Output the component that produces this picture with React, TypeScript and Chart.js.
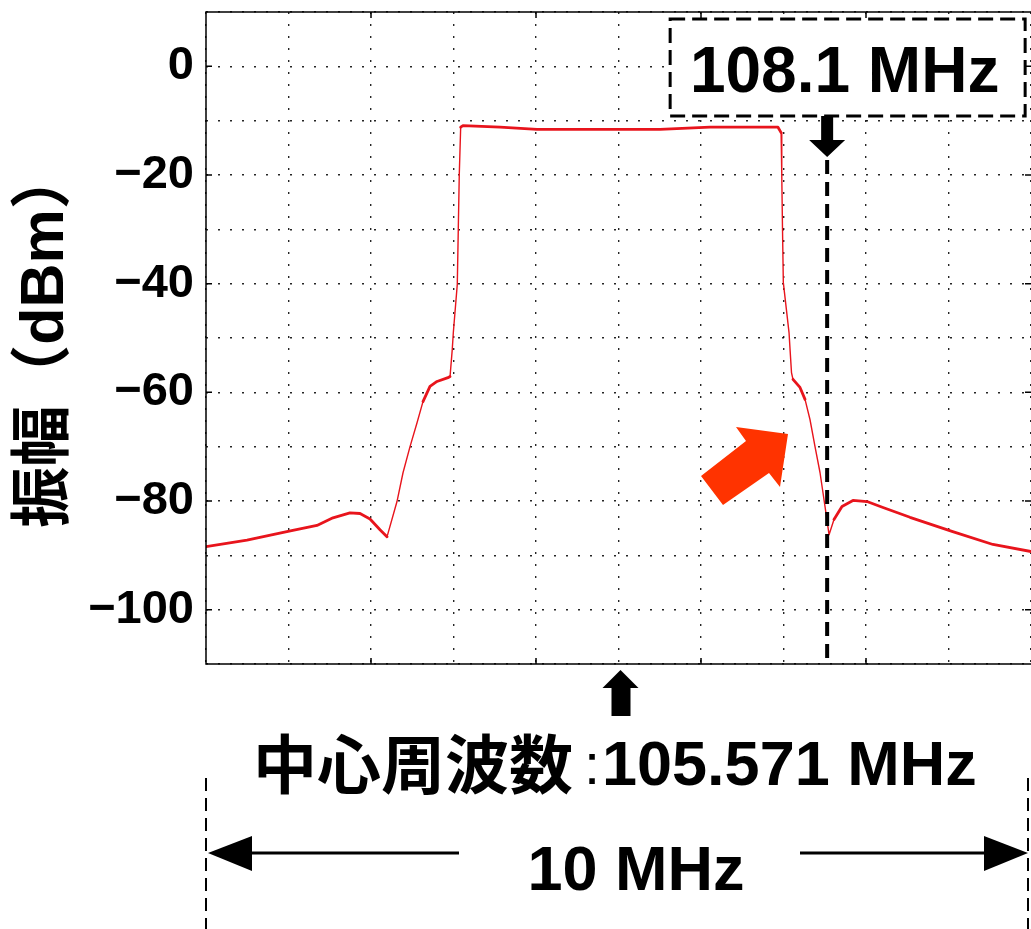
import React, { useEffect, useRef } from "react";
import { Chart, registerables } from "chart.js";

Chart.register(...registerables);

// ---- data ----
const centerFreqMHz = 105.571;
const spanMHz = 10;
const markerFreqMHz = 108.1;
const yTickLabelsEvery = 20;

const freqMHz = [
  100.571, 101.068, 101.565, 101.916, 102.11, 102.316, 102.438, 102.559, 102.68, 102.765,
  102.886, 102.959, 103.044, 103.129, 103.201, 103.286, 103.371, 103.504, 103.529, 103.556,
  103.569, 103.617, 103.629, 103.641, 103.658, 103.686, 104.135, 104.583, 105.347, 106.074,
  106.68, 107.286, 107.504, 107.542, 107.55, 107.559, 107.569, 107.638, 107.65, 107.668,
  107.686, 107.771, 107.832, 107.892, 107.953, 108.014, 108.074, 108.123, 108.183, 108.28,
  108.413, 108.583, 108.777, 109.104, 109.613, 110.11, 110.571,
];
const amplitudeDbm = [
  -88.4, -87.2, -85.6, -84.5, -83.1, -82.2, -82.3, -83.3, -85.3, -86.6,
  -80.1, -74.8, -70, -65.6, -61.7, -58.9, -58.0, -57.3, -57.1, -52.1,
  -49, -40.1, -30, -19.9, -11.2, -10.9, -11.2, -11.6, -11.6, -11.6,
  -11.2, -11.2, -11.2, -12.2, -20, -30, -39.8, -49, -52, -56.4,
  -57.6, -59.1, -61.3, -65, -70, -74.8, -81, -86.2, -83.4, -81,
  -79.9, -80.1, -81.2, -83, -85.6, -88, -89.3,
];

const yAxisTitle = "振幅（dBm）";
const markerLabel = "108.1 MHz";
const centerLabelJa = "中心周波数";
const centerLabelVal = "105.571 MHz";
const spanLabel = "10 MHz";

const FONT = '"Liberation Sans", "Noto Sans CJK JP", Arial, sans-serif';

function fillPoly(ctx: CanvasRenderingContext2D, pts: number[][], color: string) {
  ctx.beginPath();
  ctx.moveTo(pts[0][0], pts[0][1]);
  for (let i = 1; i < pts.length; i++) ctx.lineTo(pts[i][0], pts[i][1]);
  ctx.closePath();
  ctx.fillStyle = color;
  ctx.fill();
}

const annotationPlugin = {
  id: "annotations",
  afterDraw(chart: any) {
    const ctx: CanvasRenderingContext2D = chart.ctx;
    const area = chart.chartArea;
    const xs = chart.scales.x;
    const ys = chart.scales.y;
    ctx.save();

    // frame
    ctx.strokeStyle = "#000";
    ctx.lineWidth = 1.5;
    ctx.beginPath();
    ctx.moveTo(area.right + 2, area.top);
    ctx.lineTo(area.left, area.top);
    ctx.lineTo(area.left, area.bottom);
    ctx.lineTo(area.right + 2, area.bottom);
    ctx.stroke();

    // inside tick marks
    ctx.beginPath();
    for (let v = 0; v >= -100; v -= yTickLabelsEvery) {
      const py = ys.getPixelForValue(v);
      ctx.moveTo(area.left, py);
      ctx.lineTo(area.left + 6, py);
      ctx.moveTo(area.right, py);
      ctx.lineTo(area.right - 6, py);
    }
    for (let k = 2; k < spanMHz; k += 2) {
      const px = xs.getPixelForValue(centerFreqMHz - spanMHz / 2 + k);
      ctx.moveTo(px, area.top);
      ctx.lineTo(px, area.top + 6);
      ctx.moveTo(px, area.bottom);
      ctx.lineTo(px, area.bottom - 6);
    }
    ctx.stroke();

    // marker
    const mx = xs.getPixelForValue(markerFreqMHz);
    const bx0 = mx - 157, bx1 = mx + 198, by0 = 19, by1 = 116;
    ctx.fillStyle = "#fff";
    ctx.fillRect(bx0, by0, bx1 - bx0, by1 - by0);
    ctx.setLineDash([15, 7]);
    ctx.lineWidth = 3;
    ctx.strokeStyle = "#000";
    ctx.strokeRect(bx0, by0, bx1 - bx0, by1 - by0);
    ctx.setLineDash([]);
    ctx.fillStyle = "#000";
    ctx.font = `bold 64px ${FONT}`;
    ctx.textAlign = "center";
    ctx.textBaseline = "alphabetic";
    ctx.fillText(markerLabel, (bx0 + bx1) / 2 - 3, 92);

    // down arrow
    fillPoly(ctx, [
      [mx - 6, by1], [mx + 6, by1], [mx + 6, 140], [mx + 18, 140],
      [mx, 157], [mx - 18, 140], [mx - 6, 140],
    ], "#000");
    ctx.setLineDash([14, 8]);
    ctx.lineWidth = 4;
    ctx.beginPath();
    ctx.moveTo(mx, 160);
    ctx.lineTo(mx, area.bottom);
    ctx.stroke();
    ctx.setLineDash([]);

    // orange arrow
    fillPoly(ctx, [
      [788, 434], [780, 487], [769, 473], [723, 505], [701, 476], [746, 441], [736, 427],
    ], "#ff3300");

    // center up arrow
    const cx = xs.getPixelForValue(centerFreqMHz) + 2;
    fillPoly(ctx, [
      [cx, 670], [cx + 18, 688], [cx + 10, 688], [cx + 10, 716],
      [cx - 9, 716], [cx - 9, 688], [cx - 18, 688],
    ], "#000");

    // center frequency text
    ctx.textAlign = "left";
    ctx.font = `bold 64px "Noto Sans CJK JP", ${FONT}`;
    ctx.fillText(centerLabelJa, 253, 788);
    ctx.textAlign = "center";
    ctx.font = `58px ${FONT}`;
    ctx.fillText(":", 592, 784);
    ctx.textAlign = "left";
    ctx.font = `bold 63px ${FONT}`;
    ctx.fillText(centerLabelVal, 602, 785);

    // span label + arrows
    ctx.textAlign = "center";
    ctx.fillText(spanLabel, 636, 890);
    const lx = area.left, rx = area.right - 3, ay = 853;
    ctx.lineWidth = 3;
    ctx.beginPath();
    ctx.moveTo(lx + 40, ay);
    ctx.lineTo(459, ay);
    ctx.moveTo(800, ay);
    ctx.lineTo(rx - 40, ay);
    ctx.stroke();
    fillPoly(ctx, [[lx + 2, ay], [lx + 46, ay - 17], [lx + 46, ay + 18]], "#000");
    fillPoly(ctx, [[rx, ay], [rx - 44, ay - 17], [rx - 44, ay + 18]], "#000");
    ctx.setLineDash([13, 7]);
    ctx.lineWidth = 2;
    ctx.beginPath();
    ctx.moveTo(lx, 778);
    ctx.lineTo(lx, 929);
    ctx.moveTo(rx, 778);
    ctx.lineTo(rx, 929);
    ctx.stroke();
    ctx.restore();
  },
};

export default function App() {
  const ref = useRef<HTMLCanvasElement | null>(null);
  useEffect(() => {
    if (!ref.current) return;
    const gridDash = [2, 10];
    const chart = new Chart(ref.current, {
      type: "line",
      data: {
        datasets: [
          {
            data: freqMHz.map((f, i) => ({ x: f, y: amplitudeDbm[i] })),
            borderColor: "#e8141c",
            borderWidth: 2.8,
            borderJoinStyle: "round",
            borderCapStyle: "round",
            pointRadius: 0,
            tension: 0,
            fill: false,
            segment: {
              borderWidth: (c: any) => {
                const dx = Math.abs(c.p1.x - c.p0.x);
                const dy = Math.abs(c.p1.y - c.p0.y);
                return dy > 2.5 * dx ? 1.4 : 2.8;
              },
            },
          },
        ],
      },
      options: {
        animation: false,
        responsive: false,
        maintainAspectRatio: false,
        devicePixelRatio: 1,
        layout: { padding: { left: 0, top: 12, right: 0, bottom: 0 } },
        plugins: { legend: { display: false }, tooltip: { enabled: false } },
        scales: {
          x: {
            type: "linear",
            min: centerFreqMHz - spanMHz / 2,
            max: centerFreqMHz + spanMHz / 2,
            afterBuildTicks: (scale: any) => {
              const t = [];
              for (let k = 0; k <= spanMHz; k++) t.push({ value: centerFreqMHz - spanMHz / 2 + k });
              scale.ticks = t;
            },
            afterFit: (scale: any) => {
              scale.height = 265;
              scale.paddingLeft = 0;
              scale.paddingRight = 0;
            },
            ticks: { display: false },
            grid: { color: "rgba(0,0,0,0.85)", lineWidth: 1.4, drawTicks: false },
            border: { display: false, dash: gridDash },
          },
          y: {
            type: "linear",
            min: -110,
            max: 10,
            afterFit: (scale: any) => {
              scale.width = 206;
              scale.paddingTop = 0;
              scale.paddingBottom = 0;
            },
            ticks: {
              stepSize: 10,
              autoSkip: false,
              padding: 12,
              color: "#000",
              font: { family: FONT, size: 47, weight: "bold" },
              callback: (v: any) =>
                Number(v) % yTickLabelsEvery === 0 && Number(v) <= 0 && Number(v) >= -100
                  ? String(v).replace("-", "\u2212")
                  : "",
            },
            title: {
              display: true,
              text: yAxisTitle,
              color: "#000",
              font: { family: FONT, size: 61, weight: "bold" },
              padding: { top: 10, bottom: 0 },
            },
            grid: { color: "rgba(0,0,0,0.85)", lineWidth: 1.4, drawTicks: false },
            border: { display: false, dash: gridDash },
          },
        },
      },
      plugins: [annotationPlugin],
    } as any);
    return () => chart.destroy();
  }, []);
  return (
    <div style={{ position: "absolute", left: 0, top: 0, width: 1031, height: 929, overflow: "hidden", background: "#fff" }}>
      <canvas ref={ref} width={1031} height={929} style={{ display: "block" }} />
    </div>
  );
}
